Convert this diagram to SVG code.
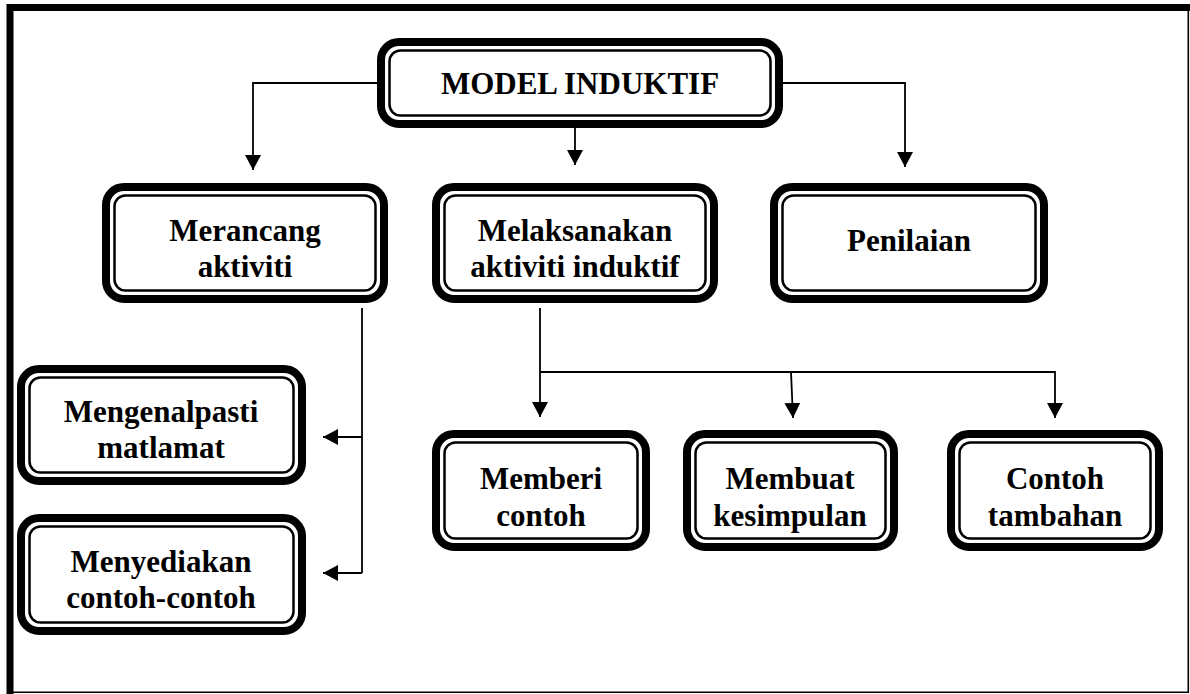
<svg xmlns="http://www.w3.org/2000/svg" width="1190" height="694" viewBox="0 0 1190 694">
<defs>
<style>
.o{fill:#fff;stroke:#000;stroke-width:8}
.i{fill:none;stroke:#000;stroke-width:2.5}
.c{fill:none;stroke:#000;stroke-width:1.8}
text{font-family:"Liberation Serif","Times New Roman",serif;font-weight:bold;font-size:31px;text-anchor:middle;fill:#000}
</style>
<marker id="ah" markerUnits="userSpaceOnUse" markerWidth="16" markerHeight="16" viewBox="0 0 16 16" refX="15" refY="8" orient="auto">
<path d="M0,0 L15,8 L0,16 Z" fill="#000"/>
</marker>
</defs>
<rect width="1190" height="694" fill="#fff"/>
<g id="frame">
<path d="M10,694 V7.5 H1190" fill="none" stroke="#000" stroke-width="7"/>
<path d="M1188.3,4 V692.2 H10" fill="none" stroke="#000" stroke-width="1.6"/>
</g>
<g id="connectors">
<path class="c" d="M377,83 H253 V170" marker-end="url(#ah)"/>
<path class="c" d="M783,83 H905 V167" marker-end="url(#ah)"/>
<path class="c" d="M575,128 V165" marker-end="url(#ah)"/>
<path class="c" d="M362,308 V573"/>
<path class="c" d="M362,437 H323" marker-end="url(#ah)"/>
<path class="c" d="M362,573 H323" marker-end="url(#ah)"/>
<path class="c" d="M540,308 V417" marker-end="url(#ah)"/>
<path class="c" d="M540,372 H1055 V418" marker-end="url(#ah)"/>
<path class="c" d="M791,372 L793,418" marker-end="url(#ah)"/>
</g>
<g id="model-induktif">
<rect class="o" x="381" y="42" width="398" height="82" rx="18"/>
<rect class="i" x="389.5" y="50.5" width="381" height="65" rx="11"/>
<text x="580" y="94">MODEL INDUKTIF</text>
</g>
<g id="merancang">
<rect class="o" x="106" y="187" width="278" height="112" rx="18"/>
<rect class="i" x="114.5" y="195.5" width="261" height="95" rx="11"/>
<text x="245" y="241">Merancang</text>
<text x="245" y="277">aktiviti</text>
</g>
<g id="melaksanakan">
<rect class="o" x="436" y="187" width="278" height="112" rx="18"/>
<rect class="i" x="444.5" y="195.5" width="261" height="95" rx="11"/>
<text x="575" y="241">Melaksanakan</text>
<text x="575" y="277">aktiviti induktif</text>
</g>
<g id="penilaian">
<rect class="o" x="774" y="187" width="270" height="112" rx="18"/>
<rect class="i" x="782.5" y="195.5" width="253" height="95" rx="11"/>
<text x="909" y="251">Penilaian</text>
</g>
<g id="mengenalpasti">
<rect class="o" x="21" y="369" width="281" height="112" rx="18"/>
<rect class="i" x="29.5" y="377.5" width="264" height="95" rx="11"/>
<text x="161" y="422">Mengenalpasti</text>
<text x="161" y="458">matlamat</text>
</g>
<g id="menyediakan">
<rect class="o" x="21" y="518" width="281" height="113" rx="18"/>
<rect class="i" x="29.5" y="526.5" width="264" height="96" rx="11"/>
<text x="161" y="572">Menyediakan</text>
<text x="161" y="608">contoh-contoh</text>
</g>
<g id="memberi">
<rect class="o" x="436" y="434" width="210" height="113" rx="18"/>
<rect class="i" x="444.5" y="442.5" width="193" height="96" rx="11"/>
<text x="541" y="489">Memberi</text>
<text x="541" y="526">contoh</text>
</g>
<g id="membuat">
<rect class="o" x="687" y="434" width="207" height="113" rx="18"/>
<rect class="i" x="695.5" y="442.5" width="190" height="96" rx="11"/>
<text x="790" y="489">Membuat</text>
<text x="790" y="526">kesimpulan</text>
</g>
<g id="contoh-tambahan">
<rect class="o" x="951" y="434" width="208" height="113" rx="18"/>
<rect class="i" x="959.5" y="442.5" width="191" height="96" rx="11"/>
<text x="1055" y="489">Contoh</text>
<text x="1055" y="526">tambahan</text>
</g>
</svg>
